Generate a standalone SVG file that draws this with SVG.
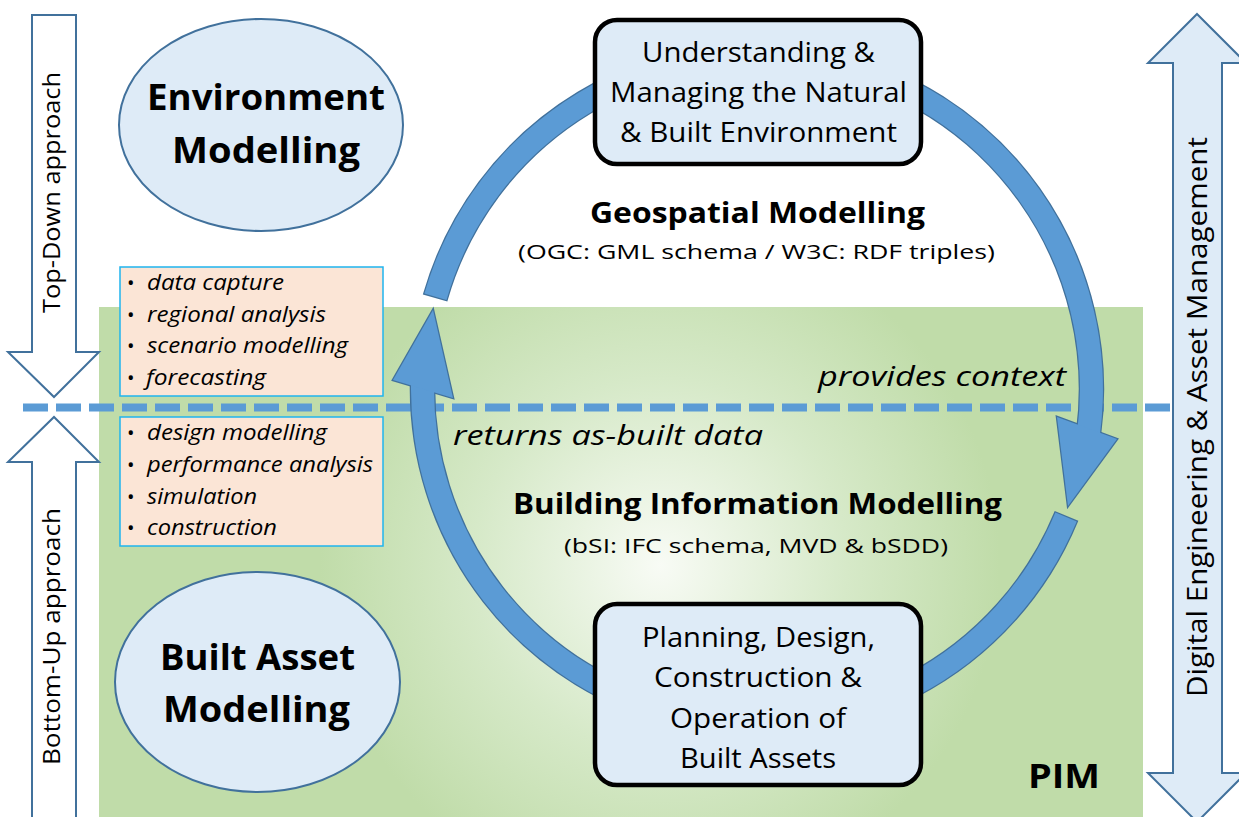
<svg xmlns="http://www.w3.org/2000/svg" xmlns:xlink="http://www.w3.org/1999/xlink" width="1239" height="817" viewBox="0 0 1239 817">
<style>
.t{font-family:"Open Sans","Liberation Sans",sans-serif;fill:#000;}
.b{font-weight:bold;}
.i{font-style:italic;}
.node{fill:#DEEBF7;stroke:#000;stroke-width:4.5;}
.ell{fill:#DEEBF7;stroke:#41719C;stroke-width:2;}
.bul{fill:#FBE5D6;stroke:#1FB4EE;stroke-width:1.5;}
.hol{fill:#FFFFFF;stroke:#41719C;stroke-width:2;}
.dbl{fill:#DEEBF7;stroke:#41719C;stroke-width:2;}
.ao{fill:#5B9BD5;stroke:#41719C;stroke-width:2.5;}
.af{fill:#5B9BD5;stroke:none;}
</style>
<defs>
<radialGradient id="g" gradientUnits="userSpaceOnUse" cx="660" cy="565" r="340">
<stop offset="0" stop-color="#F8FBF5"/>
<stop offset="0.55" stop-color="#D6E9C8"/>
<stop offset="1" stop-color="#C0DCA9"/>
</radialGradient>
<path id="arcTop" d="M424.4,293.6 A346,346 0 0 1 1100.0,434.2 L1077.2,431.2 A323,323 0 0 0 446.5,300.0 Z"/>
<path id="headR" d="M1057,417 L1117,439 L1068,506 Z"/>
<path id="arcBot" d="M1076.7,521.4 A346,346 0 0 1 411.2,376.9 L434.2,377.7 A323,323 0 0 0 1055.4,512.6 Z"/>
<path id="headL" d="M393,380 L453,398 L433,310 Z"/>
</defs>
<rect width="1239" height="817" fill="#FFFFFF"/>
<rect id="pim-area" x="99" y="307" width="1044" height="510" fill="url(#g)"/>
<g id="top-down">
<path class="hol" d="M32,15 L76,15 L76,352 L99,352 L54,397 L8,352 L32,352 Z"/>
<text class="t" transform="translate(60,192.5) rotate(-90)" text-anchor="middle" font-size="24" textLength="241" lengthAdjust="spacingAndGlyphs">Top-Down approach</text>
</g>
<g id="bottom-up">
<path class="hol" d="M32,830 L32,462 L8,462 L54,417 L99,462 L76,462 L76,830 Z"/>
<text class="t" transform="translate(60,636.5) rotate(-90)" text-anchor="middle" font-size="24" textLength="257" lengthAdjust="spacingAndGlyphs">Bottom-Up approach</text>
</g>
<line x1="23" y1="407.5" x2="1175" y2="407.5" stroke="#5B9BD5" stroke-width="8" stroke-dasharray="25 8"/>
<g id="dem">
<path class="dbl" d="M1197,14 L1246,63 L1222,63 L1222,773 L1246,773 L1197,822 L1148,773 L1173,773 L1173,63 L1148,63 Z"/>
<text class="t" transform="translate(1207,417) rotate(-90)" text-anchor="middle" font-size="27" textLength="560" lengthAdjust="spacingAndGlyphs">Digital Engineering &amp; Asset Management</text>
</g>
<g id="connectors">
<use xlink:href="#arcTop" class="ao"/>
<use xlink:href="#headR" class="ao"/>
<use xlink:href="#arcBot" class="ao"/>
<use xlink:href="#headL" class="ao"/>
<use xlink:href="#arcTop" class="af"/>
<use xlink:href="#headR" class="af"/>
<use xlink:href="#arcBot" class="af"/>
<use xlink:href="#headL" class="af"/>
</g>
<g id="env">
<ellipse class="ell" cx="261" cy="125" rx="142" ry="106"/>
<text class="t b" x="266" y="110" text-anchor="middle" font-size="36" textLength="238" lengthAdjust="spacingAndGlyphs">Environment</text>
<text class="t b" x="266" y="163" text-anchor="middle" font-size="36" textLength="188" lengthAdjust="spacingAndGlyphs">Modelling</text>
</g>
<g id="built">
<ellipse class="ell" cx="257.5" cy="682" rx="142.5" ry="110"/>
<text class="t b" x="257.5" y="670" text-anchor="middle" font-size="36" textLength="195" lengthAdjust="spacingAndGlyphs">Built Asset</text>
<text class="t b" x="256.5" y="722" text-anchor="middle" font-size="36" textLength="187" lengthAdjust="spacingAndGlyphs">Modelling</text>
</g>
<g id="topdown-tasks">
<rect class="bul" x="120" y="267" width="263" height="129"/>
<g class="t" font-size="20">
<text x="127" y="290">•</text><text x="127" y="322">•</text><text x="127" y="353">•</text><text x="127" y="385">•</text>
</g>
<g class="t i" font-size="21">
<text x="147" y="290" textLength="137" lengthAdjust="spacingAndGlyphs">data capture</text>
<text x="147" y="322" textLength="179" lengthAdjust="spacingAndGlyphs">regional analysis</text>
<text x="147" y="353" textLength="201" lengthAdjust="spacingAndGlyphs">scenario modelling</text>
<text x="146" y="385" textLength="120" lengthAdjust="spacingAndGlyphs">forecasting</text>
</g>
</g>
<g id="bottomup-tasks">
<rect class="bul" x="120" y="417" width="263" height="129"/>
<g class="t" font-size="20">
<text x="127" y="440">•</text><text x="127" y="472">•</text><text x="127" y="504">•</text><text x="127" y="535">•</text>
</g>
<g class="t i" font-size="21">
<text x="147" y="440" textLength="180" lengthAdjust="spacingAndGlyphs">design modelling</text>
<text x="147" y="472" textLength="226" lengthAdjust="spacingAndGlyphs">performance analysis</text>
<text x="147" y="504" textLength="110" lengthAdjust="spacingAndGlyphs">simulation</text>
<text x="147" y="535" textLength="130" lengthAdjust="spacingAndGlyphs">construction</text>
</g>
</g>
<g id="natural-built-env">
<rect class="node" x="595" y="20" width="326" height="144" rx="22"/>
<g class="t" font-size="27" text-anchor="middle">
<text x="758.5" y="62" textLength="233" lengthAdjust="spacingAndGlyphs">Understanding &amp;</text>
<text x="758.5" y="102" textLength="297" lengthAdjust="spacingAndGlyphs">Managing the Natural</text>
<text x="758.5" y="142" textLength="277" lengthAdjust="spacingAndGlyphs">&amp; Built Environment</text>
</g>
</g>
<g id="built-assets">
<rect class="node" x="595" y="604" width="326" height="181" rx="22"/>
<g class="t" font-size="27" text-anchor="middle">
<text x="758.5" y="647" textLength="233" lengthAdjust="spacingAndGlyphs">Planning, Design,</text>
<text x="758" y="687" textLength="208" lengthAdjust="spacingAndGlyphs">Construction &amp;</text>
<text x="758" y="728" textLength="176" lengthAdjust="spacingAndGlyphs">Operation of</text>
<text x="758" y="768" textLength="156" lengthAdjust="spacingAndGlyphs">Built Assets</text>
</g>
</g>
<g id="labels">
<text class="t b" x="757.5" y="223" text-anchor="middle" font-size="28" textLength="335" lengthAdjust="spacingAndGlyphs">Geospatial Modelling</text>
<text class="t" x="756.5" y="259" text-anchor="middle" font-size="20" textLength="477" lengthAdjust="spacingAndGlyphs">(OGC: GML schema / W3C: RDF triples)</text>
<text class="t i" x="942" y="386" text-anchor="middle" font-size="27" textLength="248" lengthAdjust="spacingAndGlyphs">provides context</text>
<text class="t i" x="608" y="445" text-anchor="middle" font-size="27" textLength="310" lengthAdjust="spacingAndGlyphs">returns as-built data</text>
<text class="t b" x="757.5" y="514" text-anchor="middle" font-size="28" textLength="489" lengthAdjust="spacingAndGlyphs">Building Information Modelling</text>
<text class="t" x="756" y="553" text-anchor="middle" font-size="20" textLength="384" lengthAdjust="spacingAndGlyphs">(bSI: IFC schema, MVD &amp; bSDD)</text>
<text class="t b" x="1064" y="788" text-anchor="middle" font-size="34" textLength="72" lengthAdjust="spacingAndGlyphs">PIM</text>
</g>
</svg>
